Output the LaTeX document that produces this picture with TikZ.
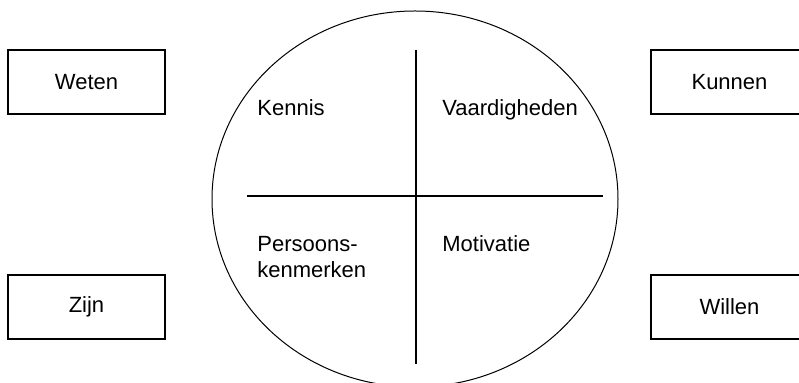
\documentclass[tikz,border=0pt]{standalone}
\usepackage{fontspec}
\setmainfont{Liberation Sans}
\usetikzlibrary{shapes.geometric}

\begin{document}
\begin{tikzpicture}[x = 0.5pt, y = -0.5pt,
    every node/.style = {font = \fontsize{11}{13}\selectfont},
    sidebox/.style = {draw, line width = 0.7pt, minimum width = 78.5pt, minimum height = 32pt, inner sep = 0pt},
    quadtext/.style = {anchor = base west, inner sep = 0pt, align = left}]
    \clip (0, 0) rectangle (799, 383);

    \node[draw, ellipse, line width = 0.5pt, minimum width = 406pt / 2, minimum height = 376pt / 2, inner sep = 0pt] (disc) at (415, 199){};

    \coordinate (top) at (416, 50);
    \coordinate (bottom) at (416, 364);
    \coordinate (left) at (247, 196);
    \coordinate (right) at (603, 196);
    \draw[line width = 0.7pt] (top) -- (bottom) (left) -- (right);

    \node[quadtext] (kennis) at (257, 116){Kennis};
    \node[quadtext] (vaardig) at (442, 116){Vaardigheden};
    \node[quadtext] (persoon) at (257, 278){Persoons-\\kenmerken};
    \node[quadtext] (motiv) at (442, 252){Motivatie};

    \node[sidebox] (weten) at (86.5, 82){Weten};
    \node[sidebox] (zijn) at (86.5, 307){Zijn};
    \node[sidebox] (kunnen) at (729.5, 82){Kunnen};
    \node[sidebox] (willen) at (729.5, 307){Willen};
\end{tikzpicture}
\end{document}
